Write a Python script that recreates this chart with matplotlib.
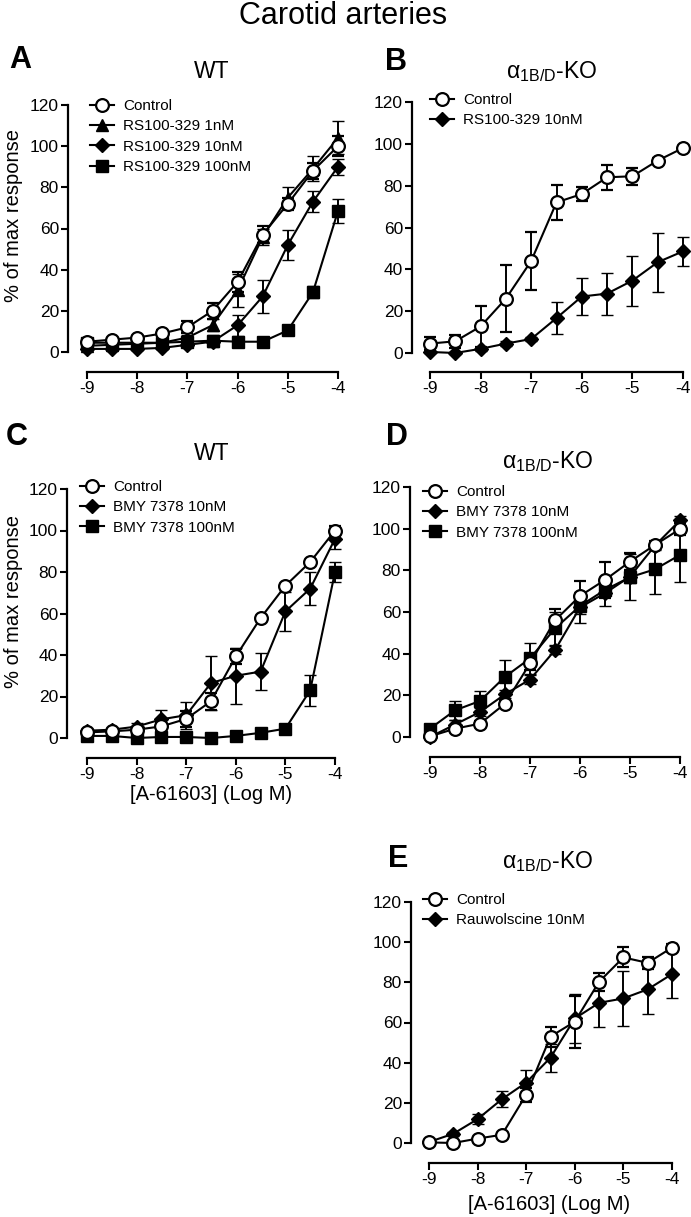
#!/usr/bin/env python3
"""Carotid artery concentration-response curves to A-61603 (panels A-E)."""

import matplotlib

matplotlib.use("Agg")
import matplotlib.pyplot as plt

plt.rcParams["font.family"] = ["Liberation Sans", "DejaVu Sans"]
plt.rcParams["mathtext.fontset"] = "custom"
plt.rcParams["mathtext.rm"] = "Liberation Sans"

FIG_W, FIG_H, DPI = 691, 1217, 100

LOG_CONC = [-9, -8.5, -8, -7.5, -7, -6.5, -6, -5.5, -5, -4.5, -4]
X_TICKS = [-9, -8, -7, -6, -5, -4]
Y_TICKS = [0, 20, 40, 60, 80, 100, 120]
X_LABEL = "[A-61603] (Log M)"
Y_LABEL = "% of max response"
KO_TITLE = r"$\mathregular{\alpha_{1B/D}}$-KO"

# panel A: WT, RS100-329
A_CTRL = [5, 6, 7, 9, 12, 20, 34, 57, 72, 88, 100]
A_CTRL_ERR = [1, 1, 1, 1.5, 3, 4, 5, 4, 3, 4, 5]
A_RS1 = [3, 3.5, 4, 4.5, 7, 13, 30, 56, 75, 89, 104]
A_RS1_ERR = [1, 1, 1, 1, 1.5, 3, 8, 4, 5, 6, 8]
A_RS10 = [1.5, 1.5, 1.5, 2, 3.5, 5, 13, 27, 52, 73, 90]
A_RS10_ERR = [0.5, 0.5, 0.5, 0.5, 1, 1.5, 5, 8, 7.5, 5, 4]
A_RS100 = [4.5, 4.5, 4.5, 4.5, 5, 5.5, 5, 5, 10.5, 29, 68.5]
A_RS100_ERR = [1, 1, 1, 1, 1, 3, 1, 1, 2, 3, 6]

# panel B: KO, RS100-329
B_CTRL = [4.5, 5.6, 12.7, 26, 44, 72, 76, 84, 84.5, 92, 98]
B_CTRL_ERR = [3, 3, 10, 16, 14, 8.5, 3.5, 6, 4, 1, 1]
B_RS10 = [0.5, 0, 2, 4.5, 6.7, 16.7, 27, 28.4, 34.6, 43.4, 48.6]
B_RS10_ERR = [0.5, 0.5, 1, 1, 1, 7.5, 9, 10, 12, 14, 7]

# panel C: WT, BMY 7378
C_CTRL = [2.7, 3.2, 4, 5.6, 9.2, 17.7, 39.3, 57.8, 73.4, 84.8, 100]
C_CTRL_ERR = [1, 1, 1, 2, 4, 4, 3.5, 1, 1, 1, 2]
C_BMY10 = [3.5, 4, 5.5, 9, 11, 26.5, 30, 32, 61, 72, 96]
C_BMY10_ERR = [1, 1, 1.5, 4.5, 6.5, 13, 13.5, 9, 9.5, 8, 5]
C_BMY100 = [1, 1, 0, 0.5, 0.5, 0, 1, 2.5, 4.5, 23, 80]
C_BMY100_ERR = [0.5, 0.5, 0.5, 0.5, 0.5, 0.5, 0.5, 0.5, 1, 7.5, 5]

# panel D: KO, BMY 7378
D_CTRL = [0.3, 4, 6.4, 16, 35.3, 56, 67.7, 75.4, 84.2, 92.2, 99.8]
D_CTRL_ERR = [0.5, 1.5, 1.5, 2, 3, 5.5, 7, 8.5, 4, 2, 3]
D_BMY10 = [0, 6, 12, 20.5, 27.6, 41.7, 62.2, 69, 77, 91.9, 104]
D_BMY10_ERR = [0.5, 2, 2, 2, 2, 2, 7.5, 6, 3, 2, 2]
D_BMY100 = [4, 12.8, 17.3, 28.9, 37.7, 52.1, 62.9, 70.6, 76.7, 80.5, 87.4]
D_BMY100_ERR = [1, 4.5, 5, 8, 7.5, 8, 4, 3, 11, 12, 13]

# panel E: KO, rauwolscine
E_CTRL = [0.3, 0, 2.2, 4.1, 24, 53, 60.4, 80.3, 92.4, 89.7, 97.3]
E_CTRL_ERR = [0.5, 0.5, 0.5, 1, 3.5, 5, 13, 4.5, 5, 3, 2]
E_RAUW = [0.5, 4.6, 11.9, 21.8, 30.1, 42.5, 62, 69.8, 72, 76.5, 84.1]
E_RAUW_ERR = [0.5, 1, 2.5, 4, 6, 7, 12, 12, 13.5, 12.5, 12]

# marker styles
CTRL = dict(marker="o", ms=9.2, mfc="white", mew=1.6)
TRI = dict(marker="^", ms=9.2, mfc="black", mew=1.0)
DIA = dict(marker="D", ms=7.4, mfc="black", mew=1.0)
SQR = dict(marker="s", ms=8.2, mfc="black", mew=1.0)

# pixel layout of each panel: x of -9, x of -4, y of 0, y of 120,
# y-spine x, x-spine y
LAYOUT = {
    "A": (87, 338, 352, 105, 68, 372),
    "B": (430, 683, 353, 102, 412, 372),
    "C": (87, 335, 738, 489, 67, 758),
    "D": (430, 680, 737, 487, 410, 757),
    "E": (429, 672, 1143, 902, 411, 1163),
}


def fx(px):
    return px / FIG_W


def fy(py):
    return 1 - py / FIG_H


def make_axes(fig, key):
    x9, x4, y0, y120, spine_x, xaxis_y = LAYOUT[key]
    ppx = (x4 - x9) / 5.0
    ppy = (y0 - y120) / 120.0
    right_px = x4 + 10
    bottom_px = y0 + 7
    top_px = y120 - 8
    ax = fig.add_axes([fx(spine_x), fy(bottom_px),
                       (right_px - spine_x) / FIG_W,
                       (bottom_px - top_px) / FIG_H])
    ax.set_xlim(-9 - (x9 - spine_x) / ppx, -4 + 10 / ppx)
    ax.set_ylim(-7 / ppy, 120 + 8 / ppy)
    for side in ("top", "right"):
        ax.spines[side].set_visible(False)
    ax.spines["left"].set_bounds(0, 120)
    ax.spines["bottom"].set_bounds(-9, -4)
    ax.spines["bottom"].set_position(("outward", (xaxis_y - bottom_px) * 0.72))
    for side in ("left", "bottom"):
        ax.spines[side].set_linewidth(1.6)
    ax.set_xticks(X_TICKS)
    ax.set_yticks(Y_TICKS)
    ax.tick_params(direction="out", length=5, width=1.5, labelsize=12.5, pad=1.5)
    ax.set_xticklabels([str(t) for t in X_TICKS])
    return ax


def plot_series(ax, y, err, style, label, z):
    cont = ax.errorbar(LOG_CONC, y, yerr=err, color="black", ecolor="black",
                       lw=1.5, elinewidth=1.4, capsize=4, capthick=1.4,
                       mec="black", clip_on=False, zorder=z, **style)
    return cont.lines[0], label


def add_legend(ax, fig, entries, marker_x, top_y):
    handles = [h for h, _ in entries]
    labels = [l for _, l in entries]
    ax.legend(handles, labels, loc="upper left", frameon=False,
              bbox_to_anchor=(fx(marker_x - 12), fy(top_y)),
              bbox_transform=fig.transFigure, fontsize=11, borderpad=0,
              borderaxespad=0, handlelength=1.55, handletextpad=0.6,
              labelspacing=0.42, numpoints=1)


def panel_text(fig, letter, title, lx, ly, tx, ty):
    fig.text(fx(lx), fy(ly), letter, fontsize=22, fontweight="bold",
             ha="center", va="center")
    fig.text(fx(tx), fy(ty), title, fontsize=16.5, ha="center", va="center")


fig = plt.figure(figsize=(FIG_W / DPI, FIG_H / DPI), dpi=DPI)
fig.text(fx(343), fy(16), "Carotid arteries", fontsize=22, ha="center", va="center")

# A
ax = make_axes(fig, "A")
sq = plot_series(ax, A_RS100, A_RS100_ERR, SQR, "RS100-329 100nM", 3)
di = plot_series(ax, A_RS10, A_RS10_ERR, DIA, "RS100-329 10nM", 4)
tr = plot_series(ax, A_RS1, A_RS1_ERR, TRI, "RS100-329 1nM", 5)
ci = plot_series(ax, A_CTRL, A_CTRL_ERR, CTRL, "Control", 6)
add_legend(ax, fig, [ci, tr, di, sq], 102, 99)
panel_text(fig, "A", "WT", 20, 60, 212, 72)
fig.text(fx(14), fy(216), Y_LABEL, fontsize=14.5, rotation=90, ha="center", va="center")

# B
ax = make_axes(fig, "B")
di = plot_series(ax, B_RS10, B_RS10_ERR, DIA, "RS100-329 10nM", 4)
ci = plot_series(ax, B_CTRL, B_CTRL_ERR, CTRL, "Control", 6)
add_legend(ax, fig, [ci, di], 442, 93)
panel_text(fig, "B", KO_TITLE, 396, 62, 552, 72)

# C
ax = make_axes(fig, "C")
sq = plot_series(ax, C_BMY100, C_BMY100_ERR, SQR, "BMY 7378 100nM", 3)
di = plot_series(ax, C_BMY10, C_BMY10_ERR, DIA, "BMY 7378 10nM", 4)
ci = plot_series(ax, C_CTRL, C_CTRL_ERR, CTRL, "Control", 6)
add_legend(ax, fig, [ci, di, sq], 92, 480)
panel_text(fig, "C", "WT", 17, 437, 212, 453)
fig.text(fx(14), fy(602), Y_LABEL, fontsize=14.5, rotation=90, ha="center", va="center")
fig.text(fx(211), fy(795), X_LABEL, fontsize=14.5, ha="center", va="center")

# D
ax = make_axes(fig, "D")
sq = plot_series(ax, D_BMY100, D_BMY100_ERR, SQR, "BMY 7378 100nM", 3)
di = plot_series(ax, D_BMY10, D_BMY10_ERR, DIA, "BMY 7378 10nM", 4)
ci = plot_series(ax, D_CTRL, D_CTRL_ERR, CTRL, "Control", 6)
add_legend(ax, fig, [ci, di, sq], 435, 485)
panel_text(fig, "D", KO_TITLE, 397, 437, 548, 462)

# E
ax = make_axes(fig, "E")
di = plot_series(ax, E_RAUW, E_RAUW_ERR, DIA, "Rauwolscine 10nM", 4)
ci = plot_series(ax, E_CTRL, E_CTRL_ERR, CTRL, "Control", 6)
add_legend(ax, fig, [ci, di], 435, 893)
panel_text(fig, "E", KO_TITLE, 398, 859, 548, 862)
fig.text(fx(549), fy(1205), X_LABEL, fontsize=14.5, ha="center", va="center")

fig.savefig("out.png", dpi=DPI)
